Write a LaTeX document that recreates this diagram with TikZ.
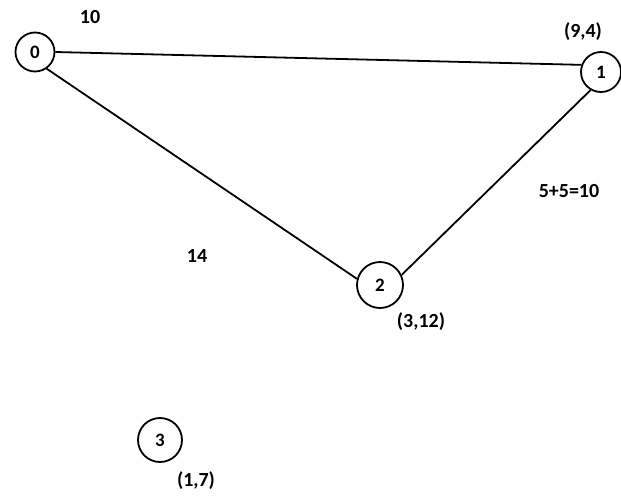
\documentclass[tikz,border=0pt]{standalone}
\usepackage{fontspec}
\setmainfont{Carlito}
\begin{document}
\begin{tikzpicture}[x=1pt,y=-1pt,
  vert/.style={draw,circle,line width=1.8pt,inner sep=0pt,font=\fontsize{19}{21}\selectfont\bfseries},
  lbl/.style={font=\fontsize{20}{22}\selectfont\bfseries,inner sep=0pt},
  edge/.style={line width=1.8pt}]
\useasboundingbox (0,0) rectangle (621,498);
\node[vert,minimum size=39pt] (n0) at (35,52) {0};
\node[vert,minimum size=40pt] (n1) at (601,72) {1};
\node[vert,minimum size=46pt] (n2) at (380,285) {2};
\node[vert,minimum size=44pt] (n3) at (160,440) {3};
\draw[edge] (n0.east) -- (n1.160);
\draw[edge] (n0.-55) -- (n2.165);
\draw[edge] (n1.-120) -- (n2.25);
\node[lbl] (l10) at (90,17) {10};
\node[lbl] (l94) at (583,32) {(9,4)};
\node[lbl] (l510) at (569,191) {5+5=10};
\node[lbl] (l14) at (197,256) {14};
\node[lbl] (l312) at (421,322) {(3,12)};
\node[lbl] (l17) at (196,481) {(1,7)};
\end{tikzpicture}
\end{document}
